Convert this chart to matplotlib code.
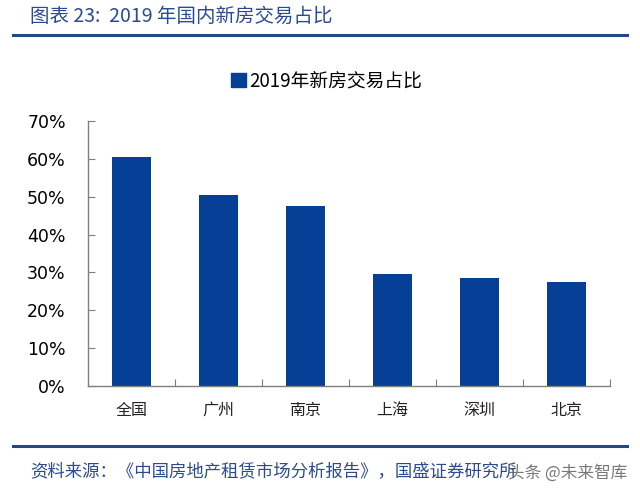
import matplotlib
matplotlib.use("Agg")
import matplotlib.pyplot as plt
from matplotlib.lines import Line2D
from matplotlib.patches import Patch
from matplotlib.ticker import FuncFormatter, MultipleLocator

plt.rcParams["font.family"] = ["Noto Sans CJK SC", "DejaVu Sans"]

# data
cities = ["全国", "广州", "南京", "上海", "深圳", "北京"]
share_2019 = [0.606, 0.504, 0.475, 0.296, 0.286, 0.275]

title = "图表 23:  2019 年国内新房交易占比"
series_name = "2019年新房交易占比"
source = "资料来源：《中国房地产租赁市场分析报告》，国盛证券研究所"
watermark = "头条 @未来智库"

bar_color = "#053F96"
text_blue = "#2A4C8E"
line_blue = "#1F4A8A"

fig = plt.figure(figsize=(6.4, 4.99), dpi=100)
ax = fig.add_axes([0.1375, 0.2265, 0.8155, 0.531])

x = list(range(len(cities)))
ax.bar(x, share_2019, width=0.45, color=bar_color, zorder=2)
ax.set_xlim(-0.5, len(cities) - 0.5)
ax.set_ylim(0, 0.7)

ax.yaxis.set_major_locator(MultipleLocator(0.1))
ax.yaxis.set_major_formatter(FuncFormatter(lambda v, _: f"{v * 100:.0f}%"))
ax.tick_params(axis="y", direction="in", length=5, color="#7f7f7f",
               labelsize=12.5, pad=16)
for lab in ax.get_yticklabels():
    lab.set_family(["DejaVu Sans"])

# category boundary ticks on the x axis, pointing inward
ax.set_xticks([i + 0.5 for i in x], minor=False)
ax.set_xticklabels([])
ax.tick_params(axis="x", direction="in", length=5, color="#7f7f7f")
for i, name in enumerate(cities):
    ax.text(i, -0.064, name, ha="center", va="center", fontsize=11.5,
            color="#222222", transform=ax.transData)

for side in ("top", "right"):
    ax.spines[side].set_visible(False)
for side in ("left", "bottom"):
    ax.spines[side].set_color("#7f7f7f")
    ax.spines[side].set_linewidth(1.0)

# legend above the plot
handle = Patch(facecolor=bar_color, edgecolor=bar_color)
fig.legend([handle], [series_name], loc="center", bbox_to_anchor=(0.51, 0.838),
           frameon=False, fontsize=13.5, handlelength=0.8, handleheight=0.8,
           handletextpad=0.2)

# header and footer
fig.text(0.047, 0.968, title, ha="left", va="center", fontsize=14,
         color=text_blue, style="italic")
fig.add_artist(Line2D([0.02, 0.98], [0.930, 0.930], color=line_blue,
                      linewidth=2.2, transform=fig.transFigure))
fig.add_artist(Line2D([0.02, 0.98], [0.106, 0.106], color=line_blue,
                      linewidth=2.2, transform=fig.transFigure))
fig.text(0.047, 0.056, source, ha="left", va="center", fontsize=12.5,
         color=text_blue, style="italic")
fig.text(0.98, 0.052, watermark, ha="right", va="center", fontsize=12,
         color="#606060", alpha=0.85)

fig.savefig("out.png", dpi=100)
